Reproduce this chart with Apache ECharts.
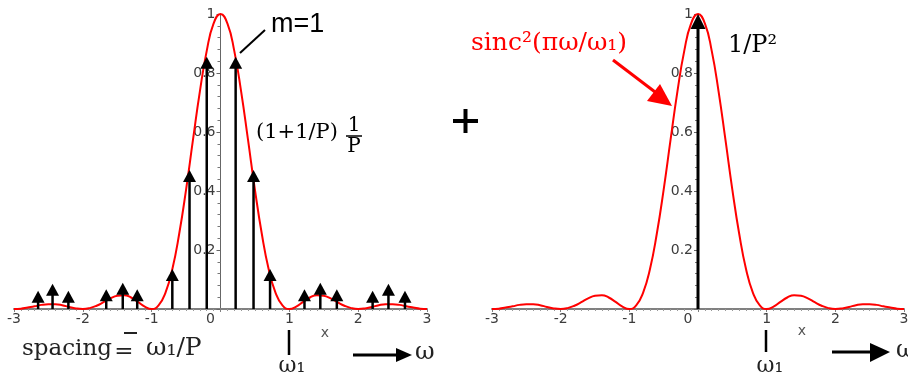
<!DOCTYPE html>
<html>
<head>
<meta charset="utf-8">
<script src="https://cdn.jsdelivr.net/npm/echarts@6/dist/echarts.min.js"></script>
<style>
  html, body { margin: 0; padding: 0; background: #fff; }
  #chart { width: 908px; height: 381px; }
</style>
</head>
<body>
<div id="chart"></div>
<script>
// ---- data ----
const xTickLabels = ['-3', '-2', '-1', '0', '1', '2', '3'];
const yTickLabels = ['0', '0.2', '0.4', '0.6', '0.8', '1'];

// envelope curve sample positions and values (same curve in both panels)
const curveX = [-3.0, -2.9, -2.8, -2.7, -2.6, -2.5, -2.4, -2.3, -2.2, -2.1,
                -2.0, -1.9, -1.8, -1.7, -1.6, -1.5, -1.4, -1.3, -1.2, -1.1,
                -1.0, -0.9, -0.8, -0.7, -0.6, -0.5, -0.4, -0.3, -0.2, -0.1,
                 0.0,  0.1,  0.2,  0.3,  0.4,  0.5,  0.6,  0.7,  0.8,  0.9,
                 1.0,  1.1,  1.2,  1.3,  1.4,  1.5,  1.6,  1.7,  1.8,  1.9,
                 2.0,  2.1,  2.2,  2.3,  2.4,  2.5,  2.6,  2.7,  2.8,  2.9, 3.0];
const curveY = [0.000, 0.001, 0.005, 0.009, 0.014, 0.016, 0.016, 0.013, 0.007, 0.002,
                0.000, 0.003, 0.011, 0.023, 0.036, 0.045, 0.047, 0.039, 0.024, 0.008,
                0.000, 0.012, 0.055, 0.135, 0.255, 0.405, 0.573, 0.737, 0.875, 0.968,
                1.000, 0.968, 0.875, 0.737, 0.573, 0.405, 0.255, 0.135, 0.055, 0.012,
                0.000, 0.008, 0.024, 0.039, 0.047, 0.045, 0.036, 0.023, 0.011, 0.003,
                0.000, 0.002, 0.007, 0.013, 0.016, 0.016, 0.014, 0.009, 0.005, 0.001, 0.000];

// comb of impulses (left panel): positions and arrow-tip heights
const combX = [-2.65, -2.44, -2.21, -1.66, -1.42, -1.21, -0.70, -0.45, -0.20,
                0.22,  0.48,  0.72,  1.22,  1.45,  1.69,  2.21,  2.44,  2.68];
const combY = [0.062, 0.086, 0.062, 0.067, 0.089, 0.067, 0.136, 0.471, 0.855,
               0.855, 0.471, 0.136, 0.067, 0.089, 0.067, 0.062, 0.086, 0.062];

// single impulse (right panel)
const deltaX = [0.0];
const deltaY = [1.0];

// ---- chart ----
const W = 908, H = 381;
const grids = [
  { left: 14, right: 481, top: 14, bottom: 72 },
  { left: 492, right: 4, top: 14, bottom: 72 }
];
const X_MIN = -3, X_MAX = 3;

const chart = echarts.init(document.getElementById('chart'), null, { renderer: 'canvas' });

const zip = (a, b) => a.map((v, i) => [v, b[i]]);

function arrowRenderer(headW, headL, lw) {
  return function (params, api) {
    const x = api.value(0), h = api.value(1);
    const p0 = api.coord([x, 0]);
    const p1 = api.coord([x, h]);
    return {
      type: 'group',
      children: [
        { type: 'line',
          shape: { x1: p0[0], y1: p0[1], x2: p1[0], y2: p1[1] + headL * 0.6 },
          style: { stroke: '#000', lineWidth: lw } },
        { type: 'polygon',
          shape: { points: [[p1[0], p1[1]], [p1[0] - headW / 2, p1[1] + headL], [p1[0] + headW / 2, p1[1] + headL]] },
          style: { fill: '#000' } }
      ]
    };
  };
}

const labelFont = { color: '#3c3c3c', fontFamily: 'DejaVu Sans', fontSize: 14 };

function makeX(gi) {
  return {
    gridIndex: gi, type: 'value', min: X_MIN, max: X_MAX, interval: 1,
    axisLine: { onZero: true, lineStyle: { color: '#808080', width: 2 } },
    axisTick: { show: true, length: 3, lineStyle: { color: '#808080' } },
    minorTick: { show: true, splitNumber: 10, length: 2, lineStyle: { color: '#999' } },
    splitLine: { show: false },
    axisLabel: Object.assign({}, labelFont, {
      margin: 3,
      formatter: (v) => {
        const idx = Math.round(v) - X_MIN;
        const t = xTickLabels[idx];
        return v === 0 ? '{z|' + t + '}' : t;
      },
      rich: { z: Object.assign({}, labelFont, { padding: [0, 20, 0, 0] }) }
    })
  };
}
function makeY(gi) {
  // place the vertical axis at x = 0 of its grid
  const g = grids[gi];
  const gw = W - g.left - g.right;
  const off = -gw * (0 - X_MIN) / (X_MAX - X_MIN);
  return {
    gridIndex: gi, type: 'value', min: 0, max: 1, interval: 0.2,
    position: 'left', offset: off,
    axisLine: { show: true, onZero: false, lineStyle: { color: '#666', width: 1 } },
    axisTick: { show: true, length: 4, lineStyle: { color: '#666' } },
    minorTick: { show: true, splitNumber: 5, length: 3, lineStyle: { color: '#777' } },
    splitLine: { show: false },
    axisLabel: Object.assign({}, labelFont, {
      margin: 5,
      formatter: (v) => {
        const idx = Math.round(v * 5);
        return idx === 0 ? '' : yTickLabels[idx];
      }
    })
  };
}

const serif = 'DejaVu Serif';

function txt(x, y, text, size, opts) {
  return {
    type: 'text', x: x, y: y, z: 100,
    style: Object.assign({ text: text, font: size + 'px "' + serif + '"', fill: '#000',
      align: 'left', verticalAlign: 'middle' }, opts || {})
  };
}

const option = {
  animation: false,
  backgroundColor: '#fff',
  grid: grids.map(g => Object.assign({ containLabel: false, outerBoundsMode: 'none' }, g)),
  xAxis: [makeX(0), makeX(1)],
  yAxis: [makeY(0), makeY(1)],
  series: [
    { type: 'line', xAxisIndex: 0, yAxisIndex: 0, data: zip(curveX, curveY),
      showSymbol: false, smooth: true,
      lineStyle: { color: '#ff0000', width: 2 }, z: 3 },
    { type: 'custom', xAxisIndex: 0, yAxisIndex: 0, data: zip(combX, combY),
      renderItem: arrowRenderer(13, 12, 2.5), z: 4 },
    { type: 'line', xAxisIndex: 1, yAxisIndex: 1, data: zip(curveX, curveY),
      showSymbol: false, smooth: true,
      lineStyle: { color: '#ff0000', width: 2 }, z: 3 },
    { type: 'custom', xAxisIndex: 1, yAxisIndex: 1, data: zip(deltaX, deltaY),
      renderItem: arrowRenderer(15, 15, 3), z: 4 }
  ],
  graphic: [
    // left annotations
    txt(271, 25, 'm=1', 27, { font: '27px "Liberation Sans"' }),
    { type: 'line', z: 100, shape: { x1: 240, y1: 53, x2: 265, y2: 30 }, style: { stroke: '#000', lineWidth: 2 } },
    txt(256, 133, '(1+1/P)', 21),
    txt(354, 126, '1', 20, { align: 'center' }),
    { type: 'line', z: 100, shape: { x1: 346, y1: 136, x2: 362, y2: 136 }, style: { stroke: '#000', lineWidth: 1.5 } },
    txt(354, 147, 'P', 20, { align: 'center' }),
    txt(22, 349, 'spacing', 23, { fill: '#222' }),
    txt(124, 352, '=', 23, { align: 'center', fill: '#222' }),
    { type: 'line', z: 100, shape: { x1: 124, y1: 333, x2: 137, y2: 333 }, style: { stroke: '#222', lineWidth: 2 } },
    txt(146, 348, 'ω₁/P', 25, { fill: '#222' }),
    { type: 'line', z: 100, shape: { x1: 289, y1: 330, x2: 289, y2: 355 }, style: { stroke: '#000', lineWidth: 2.5 } },
    txt(292, 366, 'ω₁', 22, { align: 'center', fill: '#222' }),
    { type: 'line', z: 100, shape: { x1: 353, y1: 355, x2: 398, y2: 355 }, style: { stroke: '#000', lineWidth: 3 } },
    { type: 'polygon', z: 100, shape: { points: [[396, 348], [412, 355], [396, 362]] }, style: { fill: '#000' } },
    txt(415, 353, 'ω', 24, { fill: '#222' }),
    { type: 'text', z: 100, x: 325, y: 333, style: { text: 'x', font: '14px "DejaVu Sans"', fill: '#555', align: 'center', verticalAlign: 'middle' } },
    // plus sign
    { type: 'rect', z: 100, shape: { x: 453, y: 119, width: 25, height: 4 }, style: { fill: '#000' } },
    { type: 'rect', z: 100, shape: { x: 463.5, y: 109, width: 4, height: 24 }, style: { fill: '#000' } },
    // right annotations
    txt(471, 43, 'sinc²(πω/ω₁)', 25, { fill: '#ff0000' }),
    { type: 'line', z: 100, shape: { x1: 613, y1: 60, x2: 659, y2: 95 }, style: { stroke: '#ff0000', lineWidth: 3 } },
    { type: 'polygon', z: 100, shape: { points: [[672, 106], [647, 101], [660, 84]] }, style: { fill: '#ff0000' } },
    txt(728, 46, '1/P²', 24),
    { type: 'line', z: 100, shape: { x1: 766, y1: 330, x2: 766, y2: 352 }, style: { stroke: '#000', lineWidth: 2.5 } },
    txt(770, 366, 'ω₁', 22, { align: 'center', fill: '#222' }),
    { type: 'line', z: 100, shape: { x1: 832, y1: 352, x2: 872, y2: 352 }, style: { stroke: '#000', lineWidth: 3 } },
    { type: 'polygon', z: 100, shape: { points: [[870, 343], [890, 352], [870, 362]] }, style: { fill: '#000' } },
    txt(896, 351, 'ω', 24, { fill: '#222' }),
    { type: 'text', z: 100, x: 802, y: 331, style: { text: 'x', font: '14px "DejaVu Sans"', fill: '#555', align: 'center', verticalAlign: 'middle' } }
  ]
};

chart.setOption(option);
</script>
</body>
</html>
